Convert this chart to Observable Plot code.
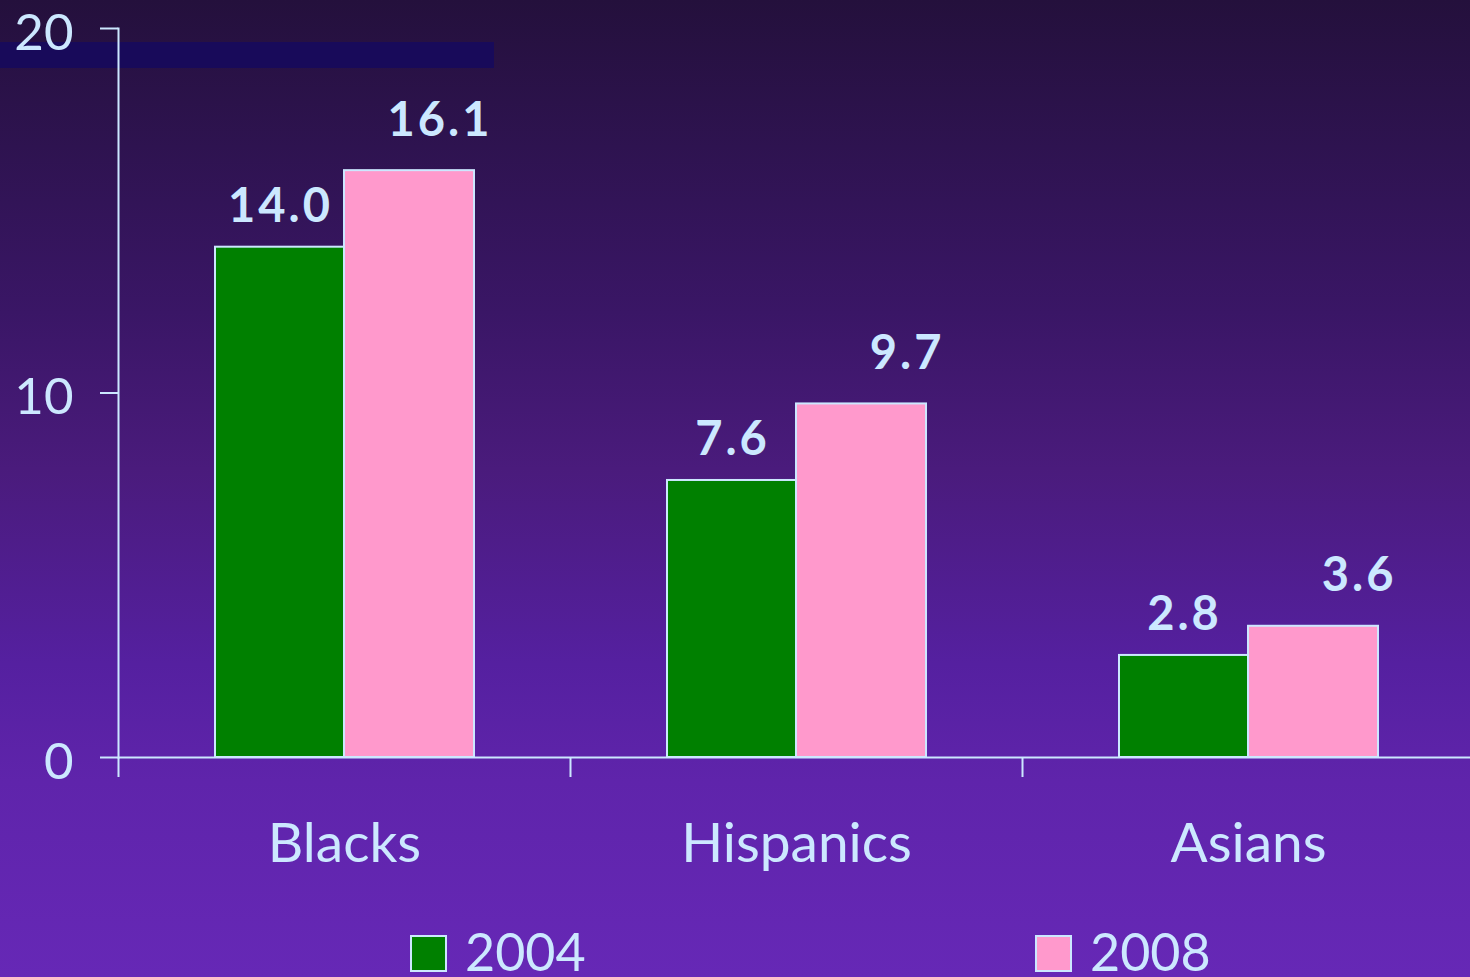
<!DOCTYPE html>
<html>
<head>
<meta charset="utf-8">
<script src="https://cdn.jsdelivr.net/npm/d3@7"></script>
<script src="https://cdn.jsdelivr.net/npm/@observablehq/plot@0.6"></script>
<style>
  html, body { margin: 0; padding: 0; }
  body {
    width: 1470px; height: 977px; overflow: hidden; position: relative;
    background: linear-gradient(to bottom, #24103c 0%, #2e1350 15%, #3a1666 32%, #4a1b7c 48%, #5520a0 68%, #5f24ab 80%, #6628b6 100%);
    font-family: Lato, "Open Sans", sans-serif;
  }
  #band { position: absolute; left: 0; top: 42px; width: 494px; height: 26px; background: #180a5a; }
  #chart { position: absolute; left: 0; top: 0; }
  #legend { position: absolute; top: 920px; left: 0; width: 1470px; height: 70px; color: #cce8ff; font-size: 52px; }
  .item { position: absolute; top: 0; display: flex; align-items: center; }
  .sw { width: 33px; height: 33px; border: 2px solid #cce8ff; margin-right: 18px; margin-top: 4px; }
  .values { letter-spacing: 3px; }
</style>
</head>
<body>
<div id="band"></div>
<div id="chart"></div>
<div id="legend"></div>
<script>
const groups = ["Blacks", "Hispanics", "Asians"];
const years = ["2004", "2008"];
const values2004 = [14.0, 7.6, 2.8];
const values2008 = [16.1, 9.7, 3.6];
const yTicks = [0, 10, 20];
const colors = ["#008000", "#ff99cc"];

const axisColor = "#cce8ff";
const d2004 = groups.map((g, i) => ({group: g, value: values2004[i]}));
const d2008 = groups.map((g, i) => ({group: g, value: values2008[i]}));

const chart = Plot.plot({
  width: 1470,
  height: 900,
  marginTop: 28,
  marginBottom: 143,
  marginLeft: 118,
  marginRight: -4,
  style: {background: "transparent", color: axisColor, fontFamily: "Lato, sans-serif", overflow: "visible"},
  x: {type: "band", domain: groups, padding: 0, label: null},
  y: {domain: [0, 20], label: null},
  marks: [
    Plot.frame({anchor: "left", stroke: axisColor, strokeWidth: 2, strokeOpacity: 1}),
    Plot.barY(d2004, {x: "group", y: "value", fill: colors[0], stroke: axisColor, strokeWidth: 2, insetLeft: 97, insetRight: 226}),
    Plot.barY(d2008, {x: "group", y: "value", fill: colors[1], stroke: axisColor, strokeWidth: 2, insetLeft: 226, insetRight: 96}),
    Plot.ruleY([0], {stroke: axisColor, strokeWidth: 2}),
    Plot.axisY({ticks: yTicks, tickSize: 18, text: null, stroke: axisColor, strokeWidth: 2, strokeOpacity: 1, label: null}),
    Plot.axisY({ticks: yTicks, tickSize: 0, tickPadding: 45, dy: 5, fontSize: 51, fill: axisColor, label: null}),
    Plot.axisX({ticks: groups, tickSize: 20, dx: -226, text: null, stroke: axisColor, strokeWidth: 2, strokeOpacity: 1, label: null}),
    Plot.axisX({ticks: groups, tickSize: 0, tickPadding: 65, fontSize: 55, fill: axisColor, label: null}),
    Plot.text(d2004, {x: "group", y: "value", text: d => d.value.toFixed(1), dx: -64, dy: -25, lineAnchor: "bottom", fontSize: 47, fontWeight: "bold", fill: axisColor, className: "values"}),
    Plot.text(d2008, {x: "group", y: "value", text: d => d.value.toFixed(1), dx: 148, dy: -35, lineAnchor: "bottom", textAnchor: "end", fontSize: 47, fontWeight: "bold", fill: axisColor, className: "values"})
  ]
});
document.getElementById("chart").appendChild(chart);

const legend = document.getElementById("legend");
const legendX = [410, 1035];
years.forEach((y, i) => {
  const item = document.createElement("div");
  item.className = "item";
  item.style.left = legendX[i] + "px";
  const sw = document.createElement("div");
  sw.className = "sw";
  sw.style.background = colors[i];
  const t = document.createElement("span");
  t.textContent = y;
  item.appendChild(sw);
  item.appendChild(t);
  legend.appendChild(item);
});
</script>
</body>
</html>
